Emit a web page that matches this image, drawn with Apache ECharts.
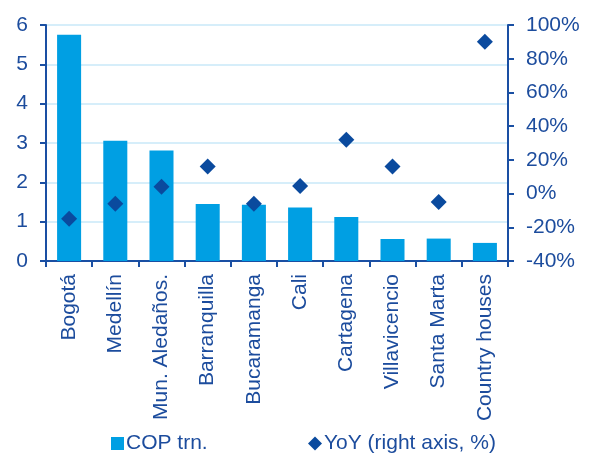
<!DOCTYPE html>
<html>
<head>
<meta charset="utf-8">
<script src="https://cdn.jsdelivr.net/npm/echarts@6/dist/echarts.min.js"></script>
<style>
  html, body { margin: 0; padding: 0; background: #ffffff; }
  #chart { width: 592px; height: 453px; }
</style>
</head>
<body>
<div id="chart"></div>
<script>
// Housing credit by city: amount (COP trillions, left axis) and YoY growth (%, right axis)
const cities = ['Bogotá', 'Medellín', 'Mun. Aledaños.', 'Barranquilla', 'Bucaramanga',
                'Cali', 'Cartagena', 'Villavicencio', 'Santa Marta', 'Country houses'];
const copTrn = [5.75, 3.06, 2.81, 1.45, 1.43, 1.36, 1.12, 0.56, 0.57, 0.46];
const yoyPct = [-15, -6, 4, 16, -6, 4.5, 32, 16, -5, 90];

const leftTicks = { min: 0, max: 6, interval: 1 };
const rightTicks = { min: -40, max: 100, interval: 20 };

const TEXT = '#1C4C9D';
const AXIS = '#1A4FA3';
const BAR = '#009FE3';
const DOT = '#0A4A9E';
const FONT = 'Liberation Sans, Arial, sans-serif';
const FS = 21;

const chart = echarts.init(document.getElementById('chart'), null, { renderer: 'canvas' });

chart.setOption({
  animation: false,
  textStyle: { fontFamily: FONT },
  grid: { left: 46, right: 84, top: 25, bottom: 192, containLabel: false },
  legend: [
    {
      data: [{ name: 'COP trn.', icon: 'rect' }],
      left: 106, top: 428, itemWidth: 13, itemHeight: 13, itemGap: 4,
      textStyle: { color: TEXT, fontSize: FS, fontFamily: FONT, padding: [0, 0, 0, -3] }
    },
    {
      data: [{ name: 'YoY (right axis, %)', icon: 'diamond' }],
      left: 303, top: 428, itemWidth: 14, itemHeight: 14, itemGap: 4,
      textStyle: { color: TEXT, fontSize: FS, fontFamily: FONT, padding: [0, 0, 0, -3] }
    }
  ],
  xAxis: {
    type: 'category',
    data: cities,
    boundaryGap: true,
    axisLine: { lineStyle: { color: AXIS, width: 2 } },
    axisTick: { show: true, alignWithLabel: false, length: 6, lineStyle: { color: AXIS, width: 2 } },
    axisLabel: {
      rotate: 90, color: TEXT, fontSize: FS, fontFamily: FONT, margin: 13, interval: 0
    }
  },
  yAxis: [
    {
      type: 'value',
      min: leftTicks.min, max: leftTicks.max, interval: leftTicks.interval,
      axisLine: { show: true, lineStyle: { color: AXIS, width: 2 } },
      axisTick: { show: true, length: 6, lineStyle: { color: AXIS, width: 2 } },
      axisLabel: { color: TEXT, fontSize: FS, fontFamily: FONT, margin: 18 },
      splitLine: { show: true, lineStyle: { color: '#C9E8F8', width: 1.5 } }
    },
    {
      type: 'value',
      position: 'right',
      min: rightTicks.min, max: rightTicks.max, interval: rightTicks.interval,
      axisLine: { show: true, lineStyle: { color: AXIS, width: 2 } },
      axisTick: { show: true, length: 6, lineStyle: { color: AXIS, width: 2 } },
      axisLabel: { color: TEXT, fontSize: FS, fontFamily: FONT, margin: 18, formatter: '{value}%' },
      splitLine: { show: false }
    }
  ],
  series: [
    {
      name: 'COP trn.',
      type: 'bar',
      yAxisIndex: 0,
      data: copTrn,
      barWidth: '52%',
      itemStyle: { color: BAR }
    },
    {
      name: 'YoY (right axis, %)',
      type: 'scatter',
      yAxisIndex: 1,
      data: yoyPct,
      symbol: 'diamond',
      symbolSize: [16, 16],
      itemStyle: { color: DOT, opacity: 1 },
      z: 5
    }
  ]
});
</script>
</body>
</html>
